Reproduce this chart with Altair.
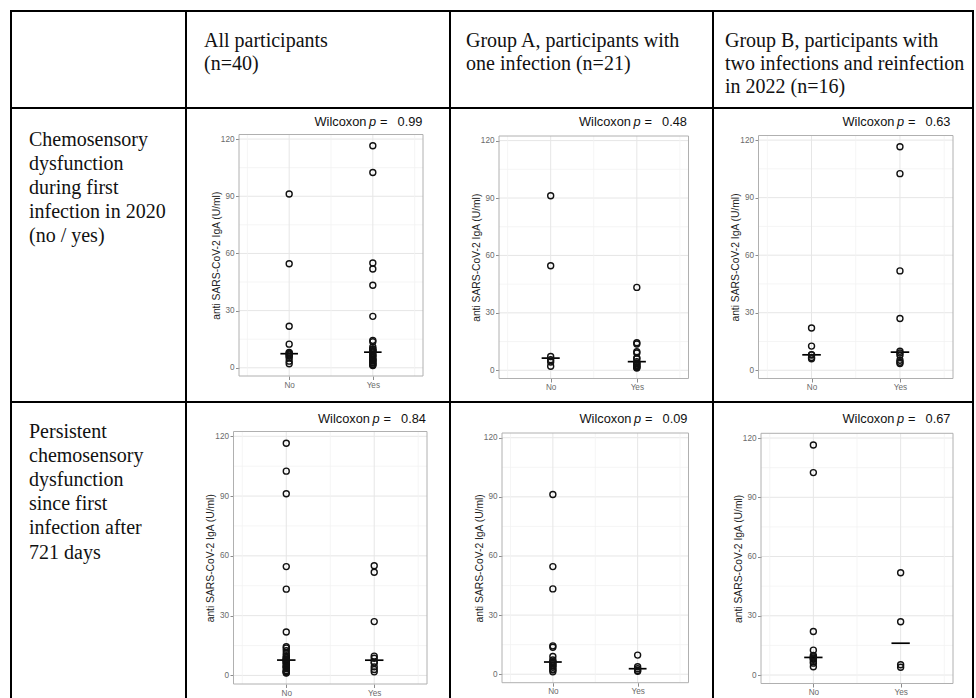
import altair as alt
import pandas as pd

W, H = 976, 698
SANS = "Liberation Sans"
SERIF = "Liberation Serif"

# ---------------- data ----------------
categories = ["No", "Yes"]
y_major = [0, 30, 60, 90, 120]
y_minor = [15, 45, 75, 105]
x_major = [1, 2]
x_minor = [0.5, 1.5, 2.5]

# row 1: chemosensory dysfunction during first infection (no / yes)
p1_no = [91.2, 54.6, 21.8, 12.4, 8.1, 7.6, 7.2, 6.7, 6.0, 5.2, 3.5, 2.1]
p1_yes = [116.5, 102.5, 55.0, 51.8, 43.3, 27.0, 14.4, 13.7, 11.0, 9.9, 9.7, 9.0, 8.8, 8.6,
          7.8, 6.9, 6.4, 6.0, 5.2, 4.5, 4.2, 3.8, 3.5, 2.8, 2.5, 1.9, 1.5, 1.2]
p2_no = [91.2, 54.6, 7.2, 5.5, 4.3, 2.1]
p2_yes = [43.3, 14.4, 13.7, 9.7, 9.0, 6.4, 6.0, 4.5, 3.8, 3.5, 2.8, 2.5, 1.9, 1.5, 1.2]
p3_no = [22.0, 12.6, 8.1, 8.0, 6.7, 6.0]
p3_yes = [116.5, 102.5, 51.8, 27.0, 9.9, 9.0, 7.8, 5.2, 4.2, 3.5]
# row 2: persistent chemosensory dysfunction after 721 days
p4_no = [116.5, 102.5, 91.2, 54.6, 43.3, 21.8, 14.4, 13.7, 12.4, 11.0, 9.9, 9.0, 8.8, 8.1, 7.8,
         7.6, 7.2, 6.9, 6.4, 6.0, 5.5, 4.5, 4.3, 4.2, 3.5, 2.5, 2.1, 1.9, 1.5, 1.2]
p4_yes = [55.0, 51.8, 27.0, 9.7, 8.6, 6.7, 6.3, 4.3, 3.0, 1.8]
p5_no = [91.2, 54.6, 43.3, 14.4, 13.7, 9.0, 7.2, 6.4, 6.0, 5.5, 4.5, 4.3, 3.5, 2.5, 2.1, 1.2]
p5_yes = [9.7, 3.8, 2.8, 1.9, 1.5]
p6_no = [116.5, 102.5, 22.0, 12.6, 9.9, 9.2, 8.6, 8.1, 8.0, 6.7, 6.0, 4.2]
p6_yes = [51.8, 27.0, 5.2, 3.9]

p_values = ["0.99", "0.48", "0.63", "0.84", "0.09", "0.67"]

col_headers = [
    ["All participants", "(n=40)"],
    ["Group A, participants with", "one infection (n=21)"],
    ["Group B, participants with", "two infections and reinfection", "in 2022 (n=16)"],
]
row_labels = [
    ["Chemosensory", "dysfunction", "during first", "infection in 2020", "(no / yes)"],
    ["Persistent", "chemosensory", "dysfunction", "since first", "infection after", "721 days"],
]
y_title = "anti SARS-CoV-2 IgA (U/ml)"

# ---------------- layout (pixels) ----------------
YMIN, YMAX = -4.3, 122.4
panels_geom = [
    dict(x0=239.0, x1=423.0, yt=134.5, yb=376.0, R=422.5, base=125.5),
    dict(x0=499.0, x1=688.5, yt=136.0, yb=378.5, R=687.0, base=125.5),
    dict(x0=758.5, x1=953.0, yt=135.5, yb=378.5, R=950.5, base=125.5),
    dict(x0=233.5, x1=427.0, yt=431.5, yb=684.0, R=426.0, base=423.0),
    dict(x0=502.0, x1=688.5, yt=433.0, yb=682.7, R=687.5, base=423.0),
    dict(x0=761.0, x1=953.0, yt=433.3, yb=683.5, R=950.5, base=423.0),
]
panel_data = [(p1_no, p1_yes), (p2_no, p2_yes), (p3_no, p3_yes),
              (p4_no, p4_yes), (p5_no, p5_yes), (p6_no, p6_yes)]

one = pd.DataFrame({"k": [0]})


def panel(no_vals, yes_vals, g):
    x0, x1, yt, yb = g["x0"], g["x1"], g["yt"], g["yb"]
    df = pd.DataFrame({"grp": [1] * len(no_vals) + [2] * len(yes_vals),
                       "val": list(no_vals) + list(yes_vals)})
    xs = alt.Scale(domain=[0.4, 2.6], range=[x0, x1], nice=False, zero=False)
    ys = alt.Scale(domain=[YMIN, YMAX], range=[yb, yt], nice=False, zero=False)
    xax = alt.Axis(values=x_major,
                   labelExpr=f"datum.value == 1 ? '{categories[0]}' : '{categories[1]}'",
                   orient="bottom", offset=yb - H, domain=False, grid=False,
                   tickSize=3.5, tickColor="#6e6e6e", tickWidth=0.8,
                   labelFont=SANS, labelFontSize=8.2, labelColor="#6a6a6a",
                   labelPadding=1.5, title="")
    yax = alt.Axis(values=y_major, orient="left", offset=-x0, domain=False, grid=False,
                   tickSize=3.5, tickColor="#6e6e6e", tickWidth=0.8,
                   labelFont=SANS, labelFontSize=8.2, labelColor="#6a6a6a",
                   labelPadding=1.5, title=y_title, titleFont=SANS, titleFontSize=10.3,
                   titleFontWeight="normal", titleColor="#222222", titlePadding=1,
                   minExtent=17, maxExtent=17)

    hmin = alt.Chart(pd.DataFrame({"v": y_minor})).mark_rule(color="#f2f2f2", strokeWidth=0.8).encode(
        y=alt.Y("v:Q", scale=ys, axis=yax),
        x=alt.XDatum(0.4, type="quantitative", scale=xs, axis=xax),
        x2=alt.X2Datum(2.6))
    hmaj = alt.Chart(pd.DataFrame({"v": y_major})).mark_rule(color="#e6e6e6", strokeWidth=1).encode(
        y=alt.Y("v:Q", scale=ys, axis=yax),
        x=alt.XDatum(0.4, type="quantitative", scale=xs, axis=xax),
        x2=alt.X2Datum(2.6))
    vmin = alt.Chart(pd.DataFrame({"v": x_minor})).mark_rule(color="#f2f2f2", strokeWidth=0.8).encode(
        x=alt.X("v:Q", scale=xs, axis=xax),
        y=alt.YDatum(YMIN, type="quantitative", scale=ys, axis=yax),
        y2=alt.Y2Datum(YMAX))
    vmaj = alt.Chart(pd.DataFrame({"v": x_major})).mark_rule(color="#e6e6e6", strokeWidth=1).encode(
        x=alt.X("v:Q", scale=xs, axis=xax),
        y=alt.YDatum(YMIN, type="quantitative", scale=ys, axis=yax),
        y2=alt.Y2Datum(YMAX))
    frame = alt.Chart(one).mark_rect(fillOpacity=0, stroke="#b0b0b0", strokeWidth=1).encode(
        x=alt.XDatum(0.4, type="quantitative", scale=xs, axis=xax),
        x2=alt.X2Datum(2.6),
        y=alt.YDatum(YMIN, type="quantitative", scale=ys, axis=yax),
        y2=alt.Y2Datum(YMAX))
    med = alt.Chart(df).transform_aggregate(
        med="median(val)", groupby=["grp"]
    ).transform_calculate(
        xa="datum.grp - 0.105", xb="datum.grp + 0.105"
    ).mark_rule(color="black", strokeWidth=1.7).encode(
        x=alt.X("xa:Q", scale=xs, axis=xax),
        x2="xb:Q",
        y=alt.Y("med:Q", scale=ys, axis=yax))
    pts = alt.Chart(df).mark_point(shape="circle", filled=False, color="#111111", size=36,
                                   strokeWidth=1.4, opacity=1).encode(
        x=alt.X("grp:Q", scale=xs, axis=xax),
        y=alt.Y("val:Q", scale=ys, axis=yax))
    return alt.layer(hmin, hmaj, vmin, vmaj, frame, med, pts)


def txt(s, x, y, align="left", size=13, font=SANS, style="normal", line_height=None):
    kw = dict(align=align, baseline="alphabetic", fontSize=size, font=font,
              fontStyle=style, color="#111111")
    if line_height is not None:
        kw["lineHeight"] = line_height
    return alt.Chart(one).mark_text(**kw).encode(
        x=alt.value(x), y=alt.value(y), text=alt.value(s))


def hline(y, xa, xb):
    return alt.Chart(one).mark_rule(color="black", strokeWidth=2, strokeCap="square").encode(
        x=alt.value(xa), x2=alt.value(xb), y=alt.value(y))


def vline(x, ya, yb):
    return alt.Chart(one).mark_rule(color="black", strokeWidth=2, strokeCap="square").encode(
        x=alt.value(x), y=alt.value(ya), y2=alt.value(yb))


layers = []
# table grid
layers += [hline(11, 11, 973), hline(108, 11, 973), hline(402, 11, 973)]
layers += [vline(xv, 11, H + 5) for xv in (11, 186, 450, 713, 973)]
# header and row labels
for xh, lines in zip((204, 466, 725), col_headers):
    layers.append(txt(lines, xh, 46.5, size=20, font=SERIF, line_height=23.4))
for yb0, lines in zip((145.5, 438.0), row_labels):
    layers.append(txt(lines, 29, yb0, size=20, font=SERIF, line_height=24.1))
# Wilcoxon annotations
WS = 12.8
for g, pv in zip(panels_geom, p_values):
    R, b = g["R"], g["base"]
    layers.append(txt("Wilcoxon", R - 108, b, size=WS))
    layers.append(txt("p", R - 53.5, b, size=WS, style="italic"))
    layers.append(txt("=", R - 42.5, b, size=WS))
    layers.append(txt(pv, R, b, align="right", size=WS))
# panels
for (nv, yv), g in zip(panel_data, panels_geom):
    layers.append(panel(nv, yv, g))

chart = alt.layer(*layers).resolve_scale(
    x="independent", y="independent"
).resolve_axis(
    x="independent", y="independent"
).properties(
    width=W, height=H, padding=0,
    autosize=alt.AutoSizeParams(type="none"),
    background="white",
).configure_view(strokeWidth=0)

chart.save("out.html", embed_options={"renderer": "svg", "actions": False})
